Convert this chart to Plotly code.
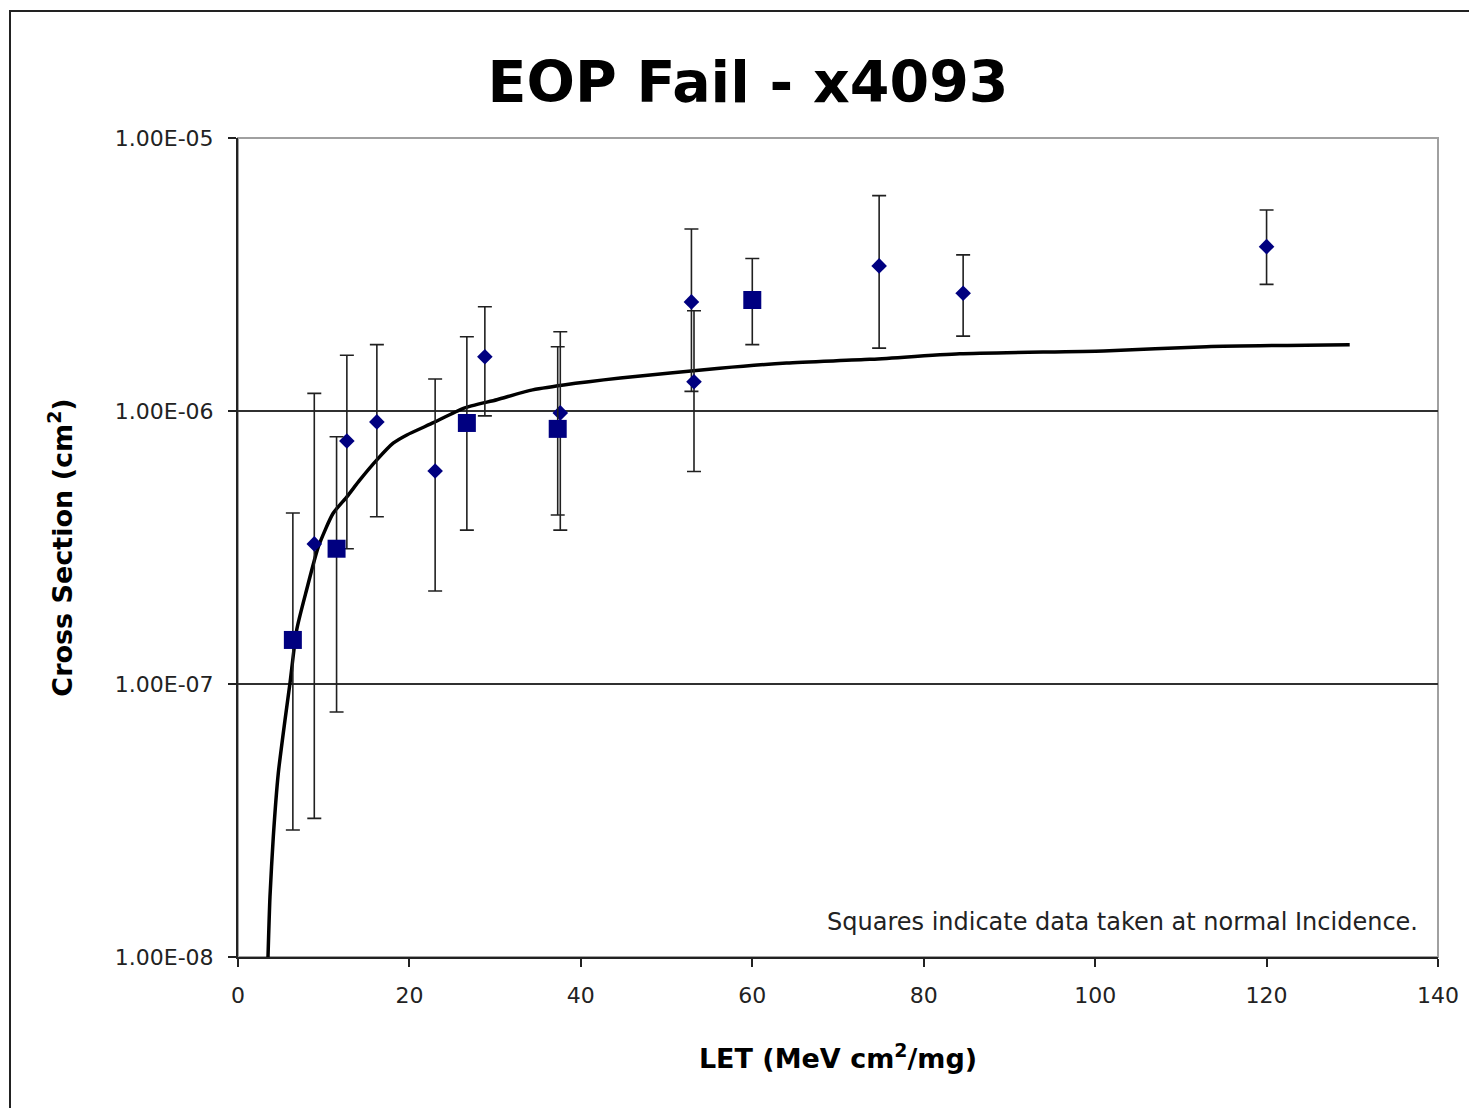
import plotly.graph_objects as go

# ---- Data ----
# Squares: data taken at normal incidence
sq_let = [6.4, 11.5, 26.7, 37.3, 60.0]
sq_xs = [1.45e-7, 3.13e-7, 9.04e-7, 8.6e-7, 2.55e-6]
sq_hi = [4.23e-7, 8.05e-7, 1.87e-6, 1.72e-6, 3.62e-6]
sq_lo = [2.92e-8, 7.9e-8, 3.66e-7, 4.16e-7, 1.75e-6]

# Diamonds: other data
dm_let = [8.9, 12.7, 16.2, 23.0, 28.8, 37.6, 52.9, 53.2, 74.8, 84.6, 120.0]
dm_xs = [3.26e-7, 7.76e-7, 9.12e-7, 6.03e-7, 1.58e-6, 9.84e-7, 2.51e-6, 1.28e-6, 3.40e-6, 2.70e-6, 4.0e-6]
dm_hi = [1.16e-6, 1.6e-6, 1.75e-6, 1.31e-6, 2.41e-6, 1.95e-6, 4.64e-6, 2.33e-6, 6.15e-6, 3.73e-6, 5.45e-6]
dm_lo = [3.22e-8, 3.13e-7, 4.1e-7, 2.19e-7, 9.6e-7, 3.66e-7, 1.18e-6, 6.0e-7, 1.70e-6, 1.88e-6, 2.91e-6]

# Fit curve
fit_let = [3.5, 3.73, 4.12, 4.70, 5.48, 6.07, 6.85, 8.0, 9.37, 11.1, 12.7, 14.2, 16.2, 18.1,
           19.7, 22.8, 26.3, 30.2, 34.1, 38.0, 44.6, 56.2, 64.0, 73.7, 84.2, 101, 113, 129.7]
fit_xs = [1.0e-8, 1.66e-8, 2.76e-8, 4.71e-8, 7.37e-8, 1.01e-7, 1.58e-7, 2.21e-7, 3.18e-7,
          4.22e-7, 4.85e-7, 5.58e-7, 6.62e-7, 7.62e-7, 8.17e-7, 9.06e-7, 1.023e-6, 1.10e-6,
          1.19e-6, 1.245e-6, 1.32e-6, 1.435e-6, 1.50e-6, 1.546e-6, 1.62e-6, 1.66e-6, 1.72e-6, 1.75e-6]

y_tickvals = [1e-8, 1e-7, 1e-6, 1e-5]
y_ticktext = ["1.00E-08", "1.00E-07", "1.00E-06", "1.00E-05"]
x_tickvals = [0, 20, 40, 60, 80, 100, 120, 140]

NAVY = "#000080"
TICK_FONT = dict(family="DejaVu Sans", size=22, color="#222222")

fig = go.Figure()

fig.add_trace(go.Scatter(
    x=fit_let, y=fit_xs, mode="lines",
    line=dict(color="black", width=3.5, shape="spline", smoothing=0.6),
    name="Fit", hoverinfo="skip"))

fig.add_trace(go.Scatter(
    x=dm_let, y=dm_xs, mode="markers", name="Data",
    marker=dict(symbol="diamond", size=12, color=NAVY),
    error_y=dict(type="data", symmetric=False,
                 array=[h - v for h, v in zip(dm_hi, dm_xs)],
                 arrayminus=[v - l for v, l in zip(dm_xs, dm_lo)],
                 color="#202020", thickness=1.6, width=7)))

fig.add_trace(go.Scatter(
    x=sq_let, y=sq_xs, mode="markers", name="Normal incidence",
    marker=dict(symbol="square", size=18, color=NAVY),
    error_y=dict(type="data", symmetric=False,
                 array=[h - v for h, v in zip(sq_hi, sq_xs)],
                 arrayminus=[v - l for v, l in zip(sq_xs, sq_lo)],
                 color="#202020", thickness=1.6, width=7)))

fig.update_layout(
    width=1477, height=1108,
    margin=dict(l=230, r=47, t=130, b=159),
    paper_bgcolor="white", plot_bgcolor="white",
    showlegend=False,
    title=dict(text="<b>EOP Fail - x4093</b>", x=0.425, xref="paper", xanchor="center",
               y=0.933, yref="container", yanchor="middle",
               font=dict(family="DejaVu Sans", size=57, color="black")),
    xaxis=dict(range=[0, 140], tickvals=x_tickvals, ticks="outside", ticklen=8,
               tickwidth=1.5, tickcolor="#222222", showline=True, linecolor="#222222",
               linewidth=2, showgrid=False, zeroline=False, tickfont=TICK_FONT,
               ticklabelstandoff=10,
               title=dict(text="<b>LET (MeV cm<sup>2</sup>/mg)</b>", standoff=42,
                          font=dict(family="DejaVu Sans", size=27, color="black"))),
    yaxis=dict(type="log", range=[-8, -5], tickvals=y_tickvals, ticktext=y_ticktext,
               ticks="outside", ticklen=8, tickwidth=1.5, tickcolor="#222222",
               showline=True, linecolor="#222222", linewidth=2,
               showgrid=True, gridcolor="#303030", gridwidth=1.5, zeroline=False,
               tickfont=TICK_FONT, ticklabelstandoff=10,
               title=dict(text="<b>Cross Section (cm<sup>2</sup>)</b>", standoff=34,
                          font=dict(family="DejaVu Sans", size=27, color="black"))),
    shapes=[
        dict(type="rect", xref="paper", yref="paper", x0=0, x1=1, y0=0, y1=1,
             line=dict(color="#a0a0a0", width=2), layer="below"),
        dict(type="rect", xref="paper", yref="paper", x0=-0.19, x1=1.04, y0=-0.19, y1=1.155,
             line=dict(color="#222222", width=2), layer="below"),
    ],
    annotations=[
        dict(text="Squares indicate data taken at normal Incidence.", xref="paper", yref="paper",
             x=0.985, y=0.043, xanchor="right", yanchor="middle", showarrow=False,
             font=dict(family="DejaVu Sans", size=24, color="#222222")),
    ],
)

fig.write_html("out.html")
